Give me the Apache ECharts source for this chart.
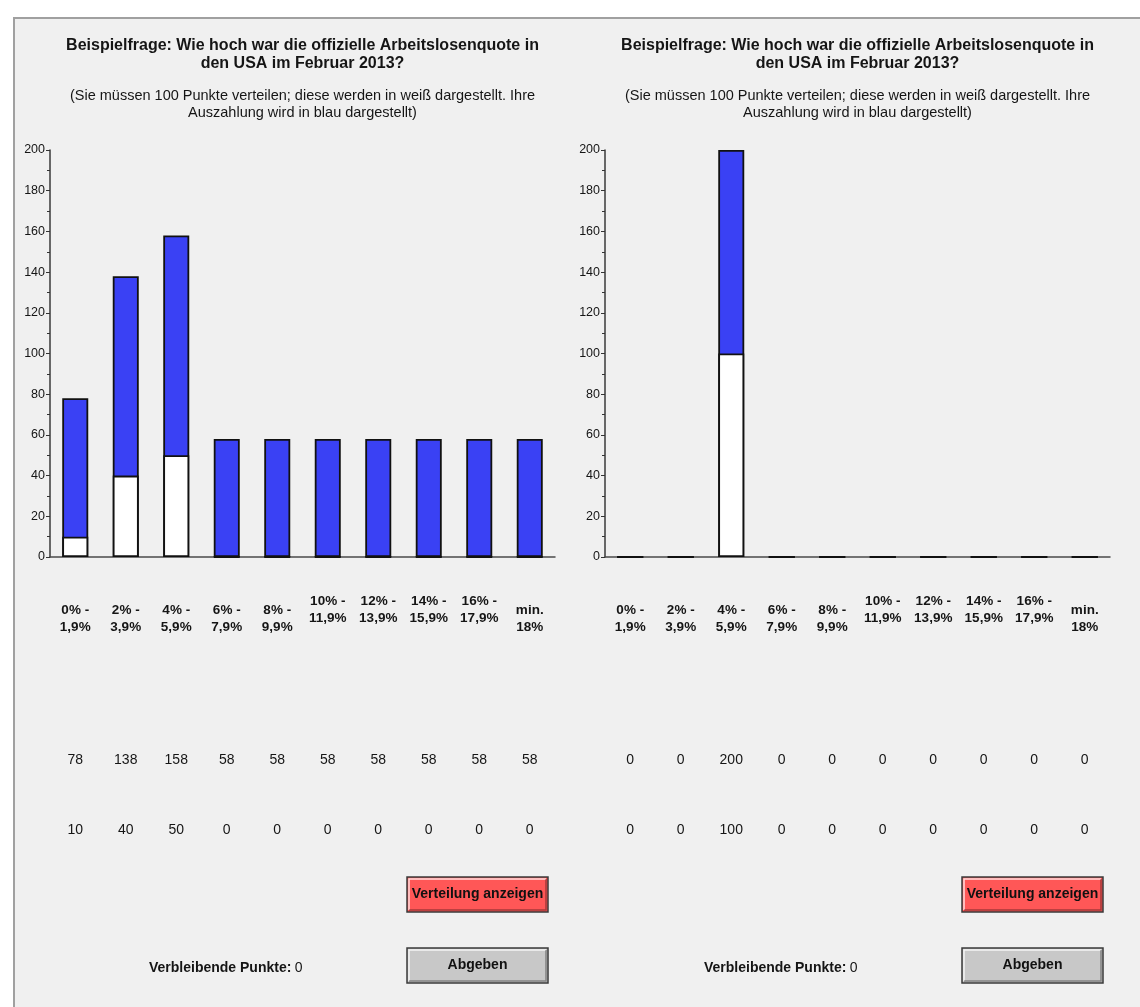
<!DOCTYPE html>
<html>
<head>
<meta charset="utf-8">
<script src="https://cdn.jsdelivr.net/npm/echarts@6/dist/echarts.min.js"></script>
<style>
  html, body { margin: 0; padding: 0; background: #fff; }
  #main { width: 1140px; height: 1007px; }
</style>
</head>
<body>
<div id="main"></div>
<script>
// Kategorien (Arbeitslosenquote)
var categories = ['0% -\n1,9%', '2% -\n3,9%', '4% -\n5,9%', '6% -\n7,9%', '8% -\n9,9%',
                  '10% -\n11,9%', '12% -\n13,9%', '14% -\n15,9%', '16% -\n17,9%', 'min.\n18%'];
// Labels die etwas hoeher stehen
var raisedLabels = ['10% -\n11,9%', '12% -\n13,9%', '14% -\n15,9%', '16% -\n17,9%'];

// linkes Diagramm
var payoutLeft = [78, 138, 158, 58, 58, 58, 58, 58, 58, 58];
var pointsLeft = [10, 40, 50, 0, 0, 0, 0, 0, 0, 0];
// rechtes Diagramm
var payoutRight = [0, 0, 200, 0, 0, 0, 0, 0, 0, 0];
var pointsRight = [0, 0, 100, 0, 0, 0, 0, 0, 0, 0];

var yMin = 0, yMax = 200, yStep = 20;
var remaining = [0, 0];

var titleText = 'Beispielfrage: Wie hoch war die offizielle Arbeitslosenquote in\nden USA im Februar 2013?';
var subText = '(Sie müssen 100 Punkte verteilen; diese werden in weiß dargestellt. Ihre\nAuszahlung wird in blau dargestellt)';

var font = '"Liberation Sans", Arial, sans-serif';
var blue = '#3a41f4';
var txt = '#151515';

var panels = [
  { x: 0, payout: payoutLeft, points: pointsLeft },
  { x: 555, payout: payoutRight, points: pointsRight }
];

var grids = [], xAxes = [], yAxes = [], series = [], titles = [], graphics = [];

// grauer Hintergrund
graphics.push({
  type: 'rect', z: -10,
  shape: { x: 14, y: 18, width: 1200, height: 1100 },
  style: { fill: '#f0f0f0', stroke: '#a0a0a0', lineWidth: 2 }
});

function button(x, y, label, fill) {
  return {
    type: 'group', x: x, y: y,
    children: [
      { type: 'rect', shape: { x: 0, y: 0, width: 141, height: 35 },
        style: { fill: fill, stroke: '#3a3a3a', lineWidth: 1.5 } },
      { type: 'polyline', shape: { points: [[2, 33], [2, 2], [139, 2]] },
        style: { stroke: 'rgba(255,255,255,0.8)', lineWidth: 1.5, fill: null } },
      { type: 'polyline', shape: { points: [[2, 33], [139, 33], [139, 2]] },
        style: { stroke: 'rgba(0,0,0,0.35)', lineWidth: 1.5, fill: null } },
      { type: 'text', x: 70.5, y: 17,
        style: { text: label, font: 'bold 14px ' + font, fill: '#111',
                 align: 'center', verticalAlign: 'middle' } }
    ]
  };
}

panels.forEach(function (p, i) {
  var left = 50 + p.x;
  grids.push({ left: left, width: 505, top: 150, height: 407 });

  titles.push({
    text: titleText, subtext: subText,
    left: left + 252.5, top: 37, textAlign: 'center', padding: 0, itemGap: 14,
    textStyle: { fontFamily: font, fontSize: 16, fontWeight: 'bold', color: txt, lineHeight: 18 },
    subtextStyle: { fontFamily: font, fontSize: 14.5, color: txt, lineHeight: 17 }
  });

  // Kategorie-Achse
  xAxes.push({
    type: 'category', gridIndex: i,
    data: categories.map(function (c) {
      return raisedLabels.indexOf(c) >= 0 ? c : { value: c, textStyle: { padding: [9, 0, 0, 0] } };
    }),
    axisLine: { lineStyle: { color: '#4a4a4a', width: 1.5 } },
    axisTick: { length: 4, lineStyle: { color: '#333', width: 1.5 } },
    axisLabel: { interval: 0, margin: 36, fontFamily: font, fontSize: 13.5, fontWeight: 'bold',
                 color: txt, lineHeight: 17 }
  });
  // Zeile Auszahlung
  xAxes.push({
    type: 'category', gridIndex: i, position: 'bottom', offset: 191,
    data: categories,
    axisLine: { show: false }, axisTick: { show: false },
    axisLabel: { interval: 0, margin: 5, fontFamily: font, fontSize: 14, color: txt,
                 formatter: function (v, idx) { return String(p.payout[idx]); } }
  });
  // Zeile Punkte
  xAxes.push({
    type: 'category', gridIndex: i, position: 'bottom', offset: 261,
    data: categories,
    axisLine: { show: false }, axisTick: { show: false },
    axisLabel: { interval: 0, margin: 5, fontFamily: font, fontSize: 14, color: txt,
                 formatter: function (v, idx) { return String(p.points[idx]); } }
  });

  yAxes.push({
    type: 'value', gridIndex: i, min: yMin, max: yMax, interval: yStep,
    axisLine: { show: true, lineStyle: { color: '#3a3a3a', width: 1.5 } },
    axisTick: { show: true, length: 4, lineStyle: { color: '#333' } },
    minorTick: { show: true, splitNumber: 2, length: 3, lineStyle: { color: '#333' } },
    splitLine: { show: false },
    axisLabel: { margin: 5, fontFamily: font, fontSize: 12.5, color: txt }
  });

  series.push({
    type: 'bar', xAxisIndex: i * 3, yAxisIndex: i, data: p.payout,
    barWidth: 26, barGap: '-100%', clip: false, z: 2,
    itemStyle: { color: blue, borderColor: '#111', borderWidth: 1.8 }
  });
  series.push({
    type: 'bar', xAxisIndex: i * 3, yAxisIndex: i, data: p.points,
    barWidth: 26, barGap: '-100%', clip: false, z: 3,
    itemStyle: { color: '#fff', borderColor: '#111', borderWidth: 1.8 }
  });

  graphics.push(button(407 + p.x, 877, 'Verteilung anzeigen', '#ff5757'));
  graphics.push(button(407 + p.x, 948, 'Abgeben', '#c8c8c8'));
  graphics.push({
    type: 'text', x: 149 + p.x, y: 968,
    style: {
      text: '{b|Verbleibende Punkte:} {n|' + remaining[i] + '}',
      verticalAlign: 'middle',
      rich: {
        b: { font: 'bold 14px ' + font, fill: txt },
        n: { font: '14px ' + font, fill: txt }
      }
    }
  });
});

var chart = echarts.init(document.getElementById('main'));
chart.setOption({
  backgroundColor: '#ffffff',
  animation: false,
  title: titles,
  grid: grids,
  xAxis: xAxes,
  yAxis: yAxes,
  series: series,
  graphic: { elements: graphics }
});
</script>
</body>
</html>
